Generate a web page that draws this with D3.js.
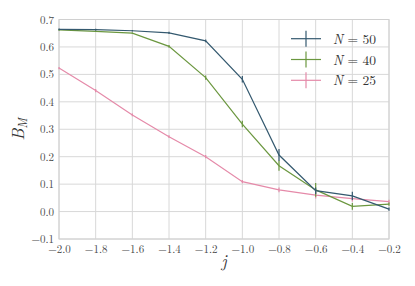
<!DOCTYPE html>
<html>
<head>
<meta charset="utf-8">
<script src="https://cdn.jsdelivr.net/npm/d3@7"></script>
<style>
  body { margin: 0; background: #fff; }
  svg text { font-family: "Latin Modern Roman", "Liberation Serif", serif; }
</style>
</head>
<body>
<div id="chart"></div>
<script>
// values
const jValues = [-2.0, -1.8, -1.6, -1.4, -1.2, -1.0, -0.8, -0.6, -0.4, -0.2];
const seriesNames = ['N = 50', 'N = 40', 'N = 25'];
const bm50 = [0.664, 0.663, 0.659, 0.651, 0.622, 0.482, 0.206, 0.076, 0.057, 0.009];
const err50 = [0.003, 0.003, 0.003, 0.004, 0.005, 0.012, 0.022, 0.012, 0.015, 0.006];
const bm40 = [0.662, 0.657, 0.650, 0.602, 0.488, 0.319, 0.167, 0.079, 0.019, 0.027];
const err40 = [0.003, 0.003, 0.003, 0.005, 0.008, 0.012, 0.018, 0.025, 0.012, 0.006];
const bm25 = [0.523, 0.441, 0.352, 0.273, 0.200, 0.109, 0.079, 0.060, 0.047, 0.036];
const err25 = [0.004, 0.006, 0.005, 0.005, 0.006, 0.006, 0.009, 0.012, 0.010, 0.007];
const xTicks = [-2.0, -1.8, -1.6, -1.4, -1.2, -1.0, -0.8, -0.6, -0.4, -0.2];
const yTicks = [-0.1, 0.0, 0.1, 0.2, 0.3, 0.4, 0.5, 0.6, 0.7];
const colors = ['#34596f', '#6b973f', '#e58aa9'];

const W = 415, H = 286;
const margin = { top: 19.5, right: 26, bottom: 47, left: 59 };
const width = W - margin.left - margin.right;
const height = H - margin.top - margin.bottom;

const svg = d3.select('#chart').append('svg')
    .attr('width', W)
    .attr('height', H);

const g = svg.append('g')
    .attr('transform', `translate(${margin.left},${margin.top})`);

const x = d3.scaleLinear().domain([-2.0, -0.2]).range([0, width]);
const y = d3.scaleLinear().domain([-0.1, 0.7]).range([height, 0]);

// grid
g.append('g').selectAll('line.vgrid')
    .data(xTicks)
    .join('line')
    .attr('x1', d => x(d)).attr('x2', d => x(d))
    .attr('y1', 0).attr('y2', height)
    .attr('stroke', '#d8d8d8').attr('stroke-width', 1);

g.append('g').selectAll('line.hgrid')
    .data(yTicks)
    .join('line')
    .attr('x1', 0).attr('x2', width)
    .attr('y1', d => y(d)).attr('y2', d => y(d))
    .attr('stroke', '#d8d8d8').attr('stroke-width', 1);

g.append('rect')
    .attr('width', width).attr('height', height)
    .attr('fill', 'none').attr('stroke', '#d0d0d0').attr('stroke-width', 1);

// axes (labels only)
const fmt = v => (v < 0 ? '\u2212' : '') + Math.abs(v).toFixed(1);
const tickFont = '"Latin Modern Roman", "Liberation Serif", serif';

const xAxis = g.append('g')
    .attr('transform', `translate(0,${height})`)
    .call(d3.axisBottom(x).tickValues(xTicks).tickFormat(fmt).tickSize(0).tickPadding(6));
xAxis.select('.domain').remove();
xAxis.selectAll('text').attr('font-size', 11).attr('fill', '#4a4a4a')
    .style('font-family', tickFont);

const yAxis = g.append('g')
    .call(d3.axisLeft(y).tickValues(yTicks).tickFormat(fmt).tickSize(0).tickPadding(5));
yAxis.select('.domain').remove();
yAxis.selectAll('text').attr('font-size', 11).attr('fill', '#4a4a4a')
    .style('font-family', tickFont);

// axis labels
svg.append('text')
    .attr('x', margin.left + width / 2)
    .attr('y', H - 19)
    .attr('text-anchor', 'middle')
    .attr('font-size', 17)
    .attr('font-style', 'italic')
    .attr('fill', '#333')
    .text('j');

const yl = svg.append('text')
    .attr('transform', `translate(24,${margin.top + height / 2}) rotate(-90)`)
    .attr('text-anchor', 'middle')
    .attr('font-size', 17)
    .attr('fill', '#333');
yl.append('tspan').attr('font-style', 'italic').text('B');
yl.append('tspan').attr('font-style', 'italic').attr('font-size', 12).attr('dy', 3).text('M');

// series
const series = [bm50, bm40, bm25].map((vals, i) => ({
    name: seriesNames[i],
    color: colors[i],
    points: jValues.map((j, k) => ({ j, v: vals[k], e: [err50, err40, err25][i][k] }))
}));

const line = d3.line().x(d => x(d.j)).y(d => y(d.v));

// draw in reverse order so N=50 is on top
series.slice().reverse().forEach(s => {
    const sg = g.append('g');
    sg.append('path')
        .datum(s.points)
        .attr('d', line)
        .attr('fill', 'none')
        .attr('stroke', s.color)
        .attr('stroke-width', 1.2);
    sg.selectAll('line.err')
        .data(s.points)
        .join('line')
        .attr('x1', d => x(d.j)).attr('x2', d => x(d.j))
        .attr('y1', d => y(d.v - d.e)).attr('y2', d => y(d.v + d.e))
        .attr('stroke', s.color)
        .attr('stroke-width', 1.2);
});

// legend
const legend = svg.append('g');
series.forEach((s, i) => {
    const cy = 38.7 + i * 20.8;
    legend.append('line')
        .attr('x1', 291).attr('x2', 321)
        .attr('y1', cy).attr('y2', cy)
        .attr('stroke', s.color).attr('stroke-width', 1.2);
    legend.append('line')
        .attr('x1', 306).attr('x2', 306)
        .attr('y1', cy - 8).attr('y2', cy + 8)
        .attr('stroke', s.color).attr('stroke-width', 1.2);
    const t = legend.append('text')
        .attr('x', 333).attr('y', cy + 5)
        .attr('font-size', 13.5)
        .attr('fill', '#333');
    const parts = s.name.split(' = ');
    t.append('tspan').attr('font-style', 'italic').text(parts[0]);
    t.append('tspan').text(' = ' + parts[1]);
});
</script>
</body>
</html>
